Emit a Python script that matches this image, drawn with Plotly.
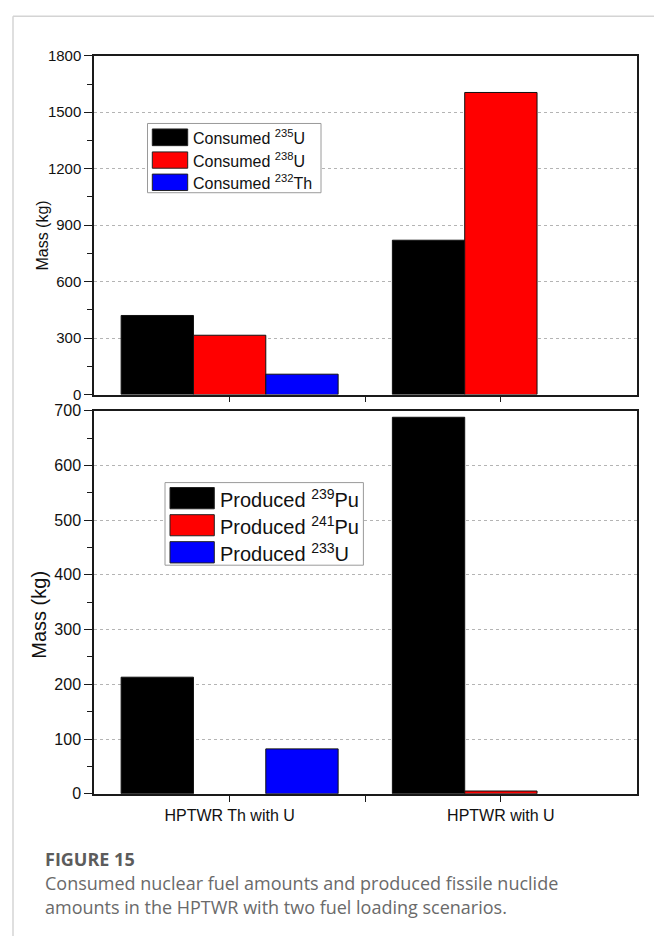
import plotly.graph_objects as go

# ---- data -------------------------------------------------------------
scenarios = ["HPTWR Th with U", "HPTWR with U"]
scenario_pos = [1, 2]

consumed_u235 = [420, 820]
consumed_u238 = [315, 1605]
consumed_th232 = [108, None]

produced_pu239 = [213, 688]
produced_pu241 = [None, 5]
produced_u233 = [82, None]

consumed_names = ["Consumed <sup>235</sup>U", "Consumed <sup>238</sup>U", "Consumed <sup>232</sup>Th"]
produced_names = ["Produced <sup>239</sup>Pu", "Produced <sup>241</sup>Pu", "Produced <sup>233</sup>U"]
bar_colors = ["#000000", "#ff0000", "#0000ff"]

top_ticks = [0, 300, 600, 900, 1200, 1500, 1800]
bottom_ticks = [0, 100, 200, 300, 400, 500, 600, 700]

# ---- page geometry (pixels) -------------------------------------------
W, H = 654, 945


def fx(px):
    return px / W


def fy(py):
    return 1 - py / H


X_DOM = [fx(94), fx(636.5)]
TOP_DOM = [fy(393), fy(47.7)]
BOT_DOM = [fy(800), fy(409.5)]
XRANGE = [0.5, 2.5]

FONT = "Liberation Sans, Arial, sans-serif"
AX = "#1a1a1a"
GRID = "#b4b4b4"

fig = go.Figure()

for vals, name, col in zip([consumed_u235, consumed_u238, consumed_th232], consumed_names, bar_colors):
    fig.add_trace(go.Bar(x=scenario_pos, y=vals, name=name, xaxis="x2", yaxis="y2",
                         marker=dict(color=col, line=dict(color="#111111", width=1)),
                         showlegend=False, hoverinfo="y"))

for vals, name, col in zip([produced_pu239, produced_pu241, produced_u233], produced_names, bar_colors):
    fig.add_trace(go.Bar(x=scenario_pos, y=vals, name=name, xaxis="x", yaxis="y",
                         marker=dict(color=col, line=dict(color="#111111", width=1)),
                         showlegend=False, hoverinfo="y"))

x_common = dict(range=XRANGE, domain=X_DOM, tickmode="array", tickvals=scenario_pos,
                ticks="outside", ticklen=6, tickwidth=1.2, tickcolor=AX,
                minor=dict(tickvals=[1.5], ticks="outside", ticklen=6, tickwidth=1.2, tickcolor=AX),
                showline=True, linecolor=AX, linewidth=1.5, mirror=True,
                showgrid=False, zeroline=False, fixedrange=True)

y_common = dict(ticks="outside", ticklen=8, tickwidth=1.2, tickcolor=AX,
                showline=True, linecolor=AX, linewidth=1.5, mirror=True,
                showgrid=True, gridcolor=GRID, griddash="dot", gridwidth=1,
                zeroline=False, fixedrange=True)

inner_x = dict(range=XRANGE, tickmode="array", tickvals=scenario_pos, side="top",
               ticks="inside", ticklen=6, tickwidth=1.2, tickcolor=AX,
               minor=dict(tickvals=[1.5], ticks="inside", ticklen=6, tickwidth=1.2, tickcolor=AX),
               showticklabels=False, showline=False, showgrid=False, zeroline=False, fixedrange=True)

inner_y = dict(side="right", ticks="inside", ticklen=6, tickwidth=1.2, tickcolor=AX,
               showticklabels=False, showline=False, showgrid=False, zeroline=False, fixedrange=True)

fig.update_layout(
    width=W, height=H,
    margin=dict(l=0, r=0, t=0, b=0),
    paper_bgcolor="white", plot_bgcolor="white",
    barmode="group", bargap=0.2, bargroupgap=0,
    font=dict(family=FONT, color="#111111"),
    # lower panel: produced nuclides
    xaxis=dict(**x_common, anchor="y", ticktext=scenarios, tickfont=dict(size=16)),
    yaxis=dict(**y_common, domain=BOT_DOM, anchor="x", range=[0, 700],
               tickmode="array", tickvals=bottom_ticks, tickfont=dict(size=16),
               minor=dict(dtick=50, tick0=0, ticks="outside", ticklen=5, tickcolor=AX, tickwidth=1)),
    # upper panel: consumed fuel
    xaxis2=dict(**x_common, anchor="y2", showticklabels=False),
    yaxis2=dict(**y_common, domain=TOP_DOM, anchor="x2", range=[0, 1800],
                tickmode="array", tickvals=top_ticks, tickfont=dict(size=15),
                minor=dict(dtick=150, tick0=0, ticks="outside", ticklen=5, tickcolor=AX, tickwidth=1)),
    # inward ticks along the top and right edges of each panel
    xaxis3=dict(**inner_x, overlaying="x", anchor="y"),
    yaxis3=dict(**inner_y, overlaying="y", anchor="x", range=[0, 700],
                tickmode="array", tickvals=bottom_ticks,
                minor=dict(dtick=50, tick0=0, ticks="inside", ticklen=4, tickcolor=AX, tickwidth=1)),
    xaxis4=dict(**inner_x, overlaying="x2", anchor="y2"),
    yaxis4=dict(**inner_y, overlaying="y2", anchor="x2", range=[0, 1800],
                tickmode="array", tickvals=top_ticks,
                minor=dict(dtick=150, tick0=0, ticks="inside", ticklen=4, tickcolor=AX, tickwidth=1)),
)

shapes = []
annotations = []

# card frame
shapes.append(dict(type="line", xref="paper", yref="paper", x0=fx(13), x1=fx(13), y0=0, y1=fy(7.5),
                   line=dict(color="#d4d4d4", width=1.5)))
shapes.append(dict(type="line", xref="paper", yref="paper", x0=fx(13), x1=1, y0=fy(7.5), y1=fy(7.5),
                   line=dict(color="#d4d4d4", width=1.5)))

# y-axis titles
annotations.append(dict(xref="paper", yref="paper", x=fx(43), y=fy(231), xanchor="center", yanchor="middle",
                        textangle=-90, showarrow=False, text="Mass (kg)",
                        font=dict(family=FONT, size=16, color="#111111")))
annotations.append(dict(xref="paper", yref="paper", x=fx(39.5), y=fy(618), xanchor="center", yanchor="middle",
                        textangle=-90, showarrow=False, text="Mass (kg)",
                        font=dict(family=FONT, size=20, color="#111111")))


def add_legend(box, sw_x, rows, text_x, names, size):
    x0, x1, y0, y1 = box
    shapes.append(dict(type="rect", xref="paper", yref="paper",
                       x0=fx(x0), x1=fx(x1), y0=fy(y1), y1=fy(y0),
                       line=dict(color="#9a9a9a", width=1), fillcolor="white", layer="above"))
    for (ry0, ry1), name, col in zip(rows, names, bar_colors):
        shapes.append(dict(type="rect", xref="paper", yref="paper",
                           x0=fx(sw_x[0]), x1=fx(sw_x[1]), y0=fy(ry1), y1=fy(ry0),
                           line=dict(color="#222222", width=1), fillcolor=col, layer="above"))
        annotations.append(dict(xref="paper", yref="paper", x=fx(text_x), y=fy((ry0 + ry1) / 2),
                                xanchor="left", yanchor="middle", showarrow=False, text=name,
                                font=dict(family=FONT, size=size, color="#111111")))


add_legend((147.5, 321, 116.7, 187.3), (152.3, 187.7),
           [(122.3, 139.3), (145.7, 162.3), (168.3, 185)], 191, consumed_names, 16)
add_legend((165, 363.4, 482.8, 567), (170, 214.3),
           [(487.8, 509.5), (515.5, 537), (543, 564.7)], 218, produced_names, 20)

# caption
CAP_FONT = "Open Sans, Noto Sans, sans-serif"
annotations.append(dict(xref="paper", yref="paper", x=fx(43), y=fy(866), xanchor="left", yanchor="middle",
                        showarrow=False, text="<b>FIGURE 15</b>",
                        font=dict(family=CAP_FONT, size=18, color="#5c5c5c")))
annotations.append(dict(xref="paper", yref="paper", x=fx(43), y=fy(891), xanchor="left", yanchor="middle",
                        showarrow=False, text="Consumed nuclear fuel amounts and produced fissile nuclide",
                        font=dict(family=CAP_FONT, size=18, color="#6a6a6a")))
annotations.append(dict(xref="paper", yref="paper", x=fx(43), y=fy(915), xanchor="left", yanchor="middle",
                        showarrow=False, text="amounts in the HPTWR with two fuel loading scenarios.",
                        font=dict(family=CAP_FONT, size=18, color="#6a6a6a")))

fig.update_layout(shapes=shapes, annotations=annotations)

fig.write_html("out.html")
